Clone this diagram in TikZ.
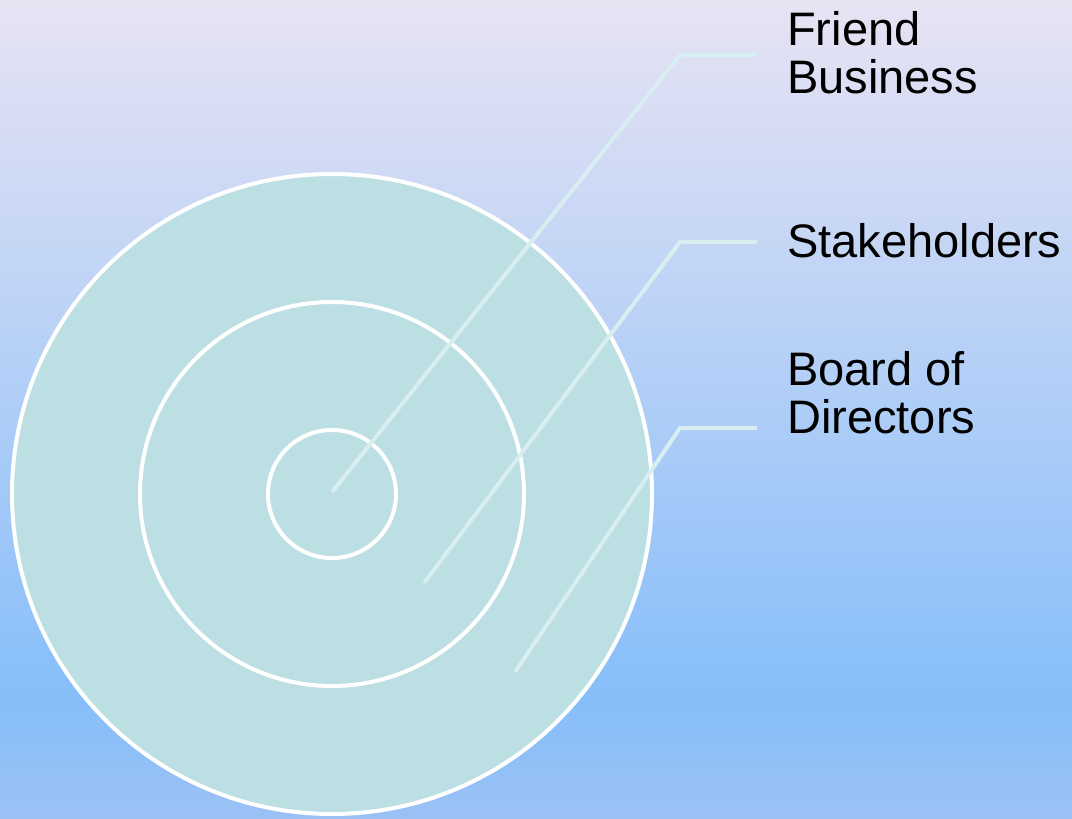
\documentclass[tikz,border=0pt]{standalone}
\usepackage{fontspec}
\setmainfont{Liberation Sans}
\definecolor{bgtop}{HTML}{E7E3F3}
\definecolor{bgmid}{HTML}{86BEFA}
\definecolor{bgbot}{HTML}{9BC1F5}
\definecolor{ringfill}{HTML}{BBDFE2}
\definecolor{leader}{HTML}{D8EEF0}
\begin{document}
\begin{tikzpicture}[x=1pt,y=-1pt,
  ring/.style={draw=white,line width=4pt,fill=ringfill},
  leaderline/.style={draw=leader,line width=4pt},
  lbl/.style={anchor=base west,inner sep=0pt,align=left,font=\fontsize{47}{48}\selectfont}]
\useasboundingbox (0,0) rectangle (1072,819);
\shade[top color=bgtop,bottom color=bgmid] (0,0) rectangle (1072,700);
\shade[top color=bgmid,bottom color=bgbot] (0,699.5) rectangle (1072,819);
\coordinate (c) at (332,494);
\draw[ring] (c) circle[radius=320];
\draw[ring] (c) circle[radius=192];
\draw[ring] (c) circle[radius=64];
\node[lbl] (friend) at (787,93) {Friend\\Business};
\node[lbl] (stake) at (787,257) {Stakeholders};
\node[lbl] (board) at (787,433) {Board of\\Directors};
\coordinate (a0) at (332,492);
\coordinate (a1) at (680,55);
\coordinate (a2) at (757,55);
\coordinate (b0) at (424,583);
\coordinate (b1) at (680,242);
\coordinate (b2) at (757,242);
\coordinate (d0) at (515,672);
\coordinate (d1) at (680,428);
\coordinate (d2) at (757,428);
\draw[leaderline] (a0) -- (a1) -- (a2);
\draw[leaderline] (b0) -- (b1) -- (b2);
\draw[leaderline] (d0) -- (d1) -- (d2);
\end{tikzpicture}
\end{document}
